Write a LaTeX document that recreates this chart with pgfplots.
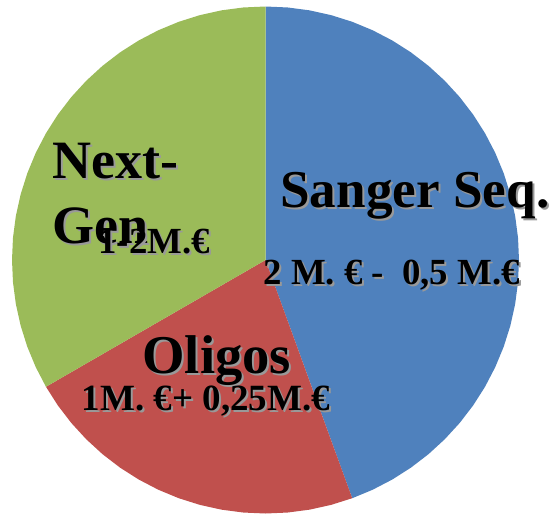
\documentclass[border=0pt]{standalone}
\usepackage{fontspec}
\setmainfont{Liberation Serif}
\usepackage{pgfplots}
\pgfplotsset{compat=1.18}
\definecolor{cblue}{HTML}{4F81BD}
\definecolor{cred}{HTML}{C0504D}
\definecolor{cgreen}{HTML}{9BBB59}
\newcommand{\lbl}[4]{%
  \node[overlay,anchor=base west,inner sep=0pt,font=\fontsize{#3}{#3}\selectfont\bfseries,text=black!40,xshift=1pt,yshift=-1.1pt] at (axis cs:#1,#2) {#4};
  \node[overlay,anchor=base west,inner sep=0pt,font=\fontsize{#3}{#3}\selectfont\bfseries,text=black] at (axis cs:#1,#2) {#4};
}
\begin{document}
\begin{tikzpicture}
\begin{axis}[
  hide axis, scale only axis,
  width=275.5pt, height=258pt,
  xmin=-265.5, xmax=285.5, ymin=-256, ymax=260,
  clip=false,
]
\addplot[draw=none] coordinates {(-265.5,-256) (285.5,260)};
% Sanger Seq. (44.4%)
\addplot[fill=cblue, draw=none, data cs=polar] coordinates {
(0,0) (90,253.5) (85,253.5) (80,253.5) (75,253.5) (70,253.5) (65,253.5) (60,253.5) (55,253.5) (50,253.5) (45,253.5) (40,253.5) (35,253.5) (30,253.5) (25,253.5) (20,253.5) (15,253.5) (10,253.5) (5,253.5) (0,253.5) (-5,253.5) (-10,253.5) (-15,253.5) (-20,253.5) (-25,253.5) (-30,253.5) (-35,253.5) (-40,253.5) (-45,253.5) (-50,253.5) (-55,253.5) (-60,253.5) (-65,253.5) (-70,253.5)
} --cycle;
% Oligos (22.2%)
\addplot[fill=cred, draw=none, data cs=polar] coordinates {
(0,0) (-70,253.5) (-75,253.5) (-80,253.5) (-85,253.5) (-90,253.5) (-95,253.5) (-100,253.5) (-105,253.5) (-110,253.5) (-115,253.5) (-120,253.5) (-125,253.5) (-130,253.5) (-135,253.5) (-140,253.5) (-145,253.5) (-150,253.5)
} --cycle;
% Next-Gen (33.3%)
\addplot[fill=cgreen, draw=none, data cs=polar] coordinates {
(0,0) (-150,253.5) (-155,253.5) (-160,253.5) (-165,253.5) (-170,253.5) (-175,253.5) (-180,253.5) (-185,253.5) (-190,253.5) (-195,253.5) (-200,253.5) (-205,253.5) (-210,253.5) (-215,253.5) (-220,253.5) (-225,253.5) (-230,253.5) (-235,253.5) (-240,253.5) (-245,253.5) (-250,253.5) (-255,253.5) (-260,253.5) (-265,253.5) (-270,253.5)
} --cycle;
\lbl{14.5}{53}{26.6}{Sanger Seq.}
\lbl{-2.5}{-24}{18.4}{2 M. € -\ \ 0,5 M.€}
\lbl{-213.5}{82}{27}{Next-}
\lbl{-213.5}{17}{27}{Gen}
\lbl{-167.5}{7}{18.4}{1-2M.€}
\lbl{-123.5}{-113}{27.3}{Oligos}
\lbl{-184}{-150}{18.5}{1M. €+ 0,25M.€}
\end{axis}
\end{tikzpicture}
\end{document}
